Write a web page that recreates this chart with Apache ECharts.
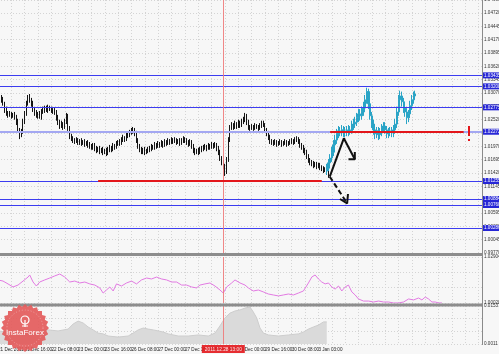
<!DOCTYPE html>
<html><head><meta charset="utf-8">
<script src="https://cdn.jsdelivr.net/npm/echarts@6/dist/echarts.min.js"></script>
<style>html,body{margin:0;padding:0;background:#f7f7f7}#c{width:499px;height:354px}</style>
</head><body><div id="c"></div>
<script>
// ---------- data ----------
const xTickLabels = ["21 Dec 2011","21 Dec 16:00","22 Dec 08:00","23 Dec 00:00","23 Dec 16:00","26 Dec 08:00","27 Dec 00:00","27 Dec 16:00","28 Dec 08:00","29 Dec 00:00","29 Dec 16:00","30 Dec 08:00","3 Jan 03:00"];
const barsPerLabel = 16;
// H1 bars: [open, close, low, high]
const blackCandles = [
[1.0305,1.0303,1.0297,1.0312],[1.0303,1.0299,1.0295,1.0307],[1.0299,1.0293,1.0287,1.0303],[1.0293,1.0285,1.0281,1.0299],
[1.0285,1.0272,1.0266,1.0289],[1.0272,1.0266,1.0260,1.0279],[1.0266,1.0262,1.0256,1.0270],[1.0262,1.0264,1.0258,1.0270],
[1.0264,1.0260,1.0254,1.0268],[1.0260,1.0262,1.0256,1.0266],[1.0262,1.0258,1.0252,1.0268],[1.0258,1.0247,1.0241,1.0262],
[1.0247,1.0231,1.0225,1.0254],[1.0231,1.0221,1.0212,1.0235],[1.0221,1.0227,1.0216,1.0233],[1.0227,1.0247,1.0223,1.0254],
[1.0247,1.0264,1.0243,1.0270],[1.0264,1.0285,1.0260,1.0291],[1.0285,1.0297,1.0281,1.0303],[1.0297,1.0293,1.0287,1.0305],
[1.0293,1.0285,1.0279,1.0297],[1.0285,1.0272,1.0268,1.0291],[1.0272,1.0266,1.0260,1.0276],[1.0266,1.0260,1.0256,1.0272],
[1.0260,1.0264,1.0254,1.0268],[1.0264,1.0258,1.0254,1.0270],[1.0258,1.0268,1.0252,1.0274],[1.0268,1.0272,1.0264,1.0279],
[1.0272,1.0274,1.0266,1.0281],[1.0274,1.0272,1.0268,1.0281],[1.0272,1.0276,1.0266,1.0283],[1.0276,1.0274,1.0270,1.0281],
[1.0274,1.0272,1.0266,1.0279],[1.0272,1.0270,1.0264,1.0276],[1.0270,1.0268,1.0262,1.0276],[1.0268,1.0256,1.0250,1.0272],
[1.0256,1.0247,1.0241,1.0262],[1.0247,1.0239,1.0233,1.0252],[1.0239,1.0243,1.0235,1.0250],[1.0243,1.0237,1.0231,1.0247],
[1.0237,1.0247,1.0233,1.0254],[1.0247,1.0260,1.0243,1.0266],[1.0260,1.0235,1.0229,1.0264],[1.0235,1.0218,1.0212,1.0239],
[1.0218,1.0214,1.0208,1.0223],[1.0214,1.0210,1.0204,1.0218],[1.0210,1.0208,1.0202,1.0214],[1.0208,1.0210,1.0204,1.0216],
[1.0210,1.0206,1.0200,1.0214],[1.0206,1.0208,1.0200,1.0212],[1.0208,1.0204,1.0198,1.0214],[1.0204,1.0206,1.0200,1.0210],
[1.0206,1.0202,1.0196,1.0212],[1.0202,1.0204,1.0198,1.0208],[1.0204,1.0200,1.0194,1.0210],[1.0200,1.0198,1.0192,1.0206],
[1.0198,1.0196,1.0190,1.0202],[1.0196,1.0198,1.0190,1.0204],[1.0198,1.0194,1.0187,1.0204],[1.0194,1.0190,1.0183,1.0198],
[1.0190,1.0192,1.0185,1.0196],[1.0192,1.0187,1.0181,1.0198],[1.0187,1.0190,1.0183,1.0194],[1.0190,1.0185,1.0179,1.0196],
[1.0185,1.0187,1.0181,1.0192],[1.0187,1.0183,1.0177,1.0194],[1.0183,1.0190,1.0179,1.0196],[1.0190,1.0194,1.0185,1.0200],
[1.0194,1.0192,1.0185,1.0198],[1.0192,1.0198,1.0187,1.0204],[1.0198,1.0196,1.0190,1.0202],[1.0196,1.0202,1.0192,1.0208],
[1.0202,1.0206,1.0198,1.0210],[1.0206,1.0204,1.0198,1.0212],[1.0204,1.0210,1.0200,1.0216],[1.0210,1.0214,1.0206,1.0221],
[1.0214,1.0212,1.0206,1.0218],[1.0212,1.0218,1.0208,1.0225],[1.0218,1.0221,1.0214,1.0227],[1.0221,1.0225,1.0216,1.0231],
[1.0225,1.0229,1.0221,1.0235],[1.0229,1.0231,1.0223,1.0237],[1.0231,1.0225,1.0218,1.0235],[1.0225,1.0210,1.0204,1.0229],
[1.0210,1.0198,1.0192,1.0214],[1.0198,1.0192,1.0185,1.0202],[1.0192,1.0187,1.0181,1.0196],[1.0187,1.0190,1.0181,1.0194],
[1.0190,1.0185,1.0179,1.0196],[1.0185,1.0187,1.0181,1.0192],[1.0187,1.0190,1.0183,1.0196],[1.0190,1.0192,1.0185,1.0198],
[1.0192,1.0196,1.0187,1.0202],[1.0196,1.0194,1.0190,1.0200],[1.0194,1.0200,1.0190,1.0206],[1.0200,1.0198,1.0192,1.0204],
[1.0198,1.0202,1.0194,1.0208],[1.0202,1.0200,1.0194,1.0206],[1.0200,1.0204,1.0196,1.0210],[1.0204,1.0200,1.0194,1.0208],
[1.0200,1.0206,1.0196,1.0212],[1.0206,1.0204,1.0198,1.0210],[1.0204,1.0208,1.0200,1.0214],[1.0208,1.0206,1.0200,1.0212],
[1.0206,1.0210,1.0202,1.0216],[1.0210,1.0208,1.0202,1.0214],[1.0208,1.0210,1.0204,1.0216],[1.0210,1.0206,1.0200,1.0214],
[1.0206,1.0208,1.0202,1.0212],[1.0208,1.0204,1.0198,1.0214],[1.0204,1.0208,1.0200,1.0214],[1.0208,1.0212,1.0204,1.0218],
[1.0212,1.0210,1.0204,1.0216],[1.0210,1.0206,1.0200,1.0214],[1.0206,1.0202,1.0196,1.0210],[1.0202,1.0206,1.0198,1.0212],
[1.0206,1.0198,1.0192,1.0210],[1.0198,1.0190,1.0183,1.0202],[1.0190,1.0185,1.0179,1.0194],[1.0185,1.0187,1.0181,1.0192],
[1.0187,1.0185,1.0179,1.0194],[1.0185,1.0190,1.0181,1.0196],[1.0190,1.0192,1.0185,1.0198],[1.0192,1.0194,1.0187,1.0200],
[1.0194,1.0196,1.0190,1.0202],[1.0196,1.0194,1.0187,1.0200],[1.0194,1.0198,1.0190,1.0204],[1.0198,1.0196,1.0190,1.0202],
[1.0196,1.0200,1.0192,1.0206],[1.0200,1.0198,1.0192,1.0204],[1.0198,1.0200,1.0194,1.0206],[1.0200,1.0194,1.0187,1.0204],
[1.0194,1.0185,1.0179,1.0198],[1.0185,1.0173,1.0167,1.0190],[1.0173,1.0165,1.0158,1.0177],[1.0165,1.0156,1.0150,1.0169],
[1.0156,1.0144,1.0136,1.0161],[1.0144,1.0169,1.0140,1.0175],[1.0169,1.0210,1.0165,1.0216],[1.0210,1.0235,1.0206,1.0241],
[1.0235,1.0241,1.0231,1.0247],[1.0241,1.0237,1.0231,1.0245],[1.0237,1.0243,1.0233,1.0250],[1.0243,1.0239,1.0233,1.0247],
[1.0239,1.0245,1.0235,1.0252],[1.0245,1.0241,1.0235,1.0250],[1.0241,1.0247,1.0237,1.0254],[1.0247,1.0252,1.0243,1.0258],
[1.0252,1.0260,1.0247,1.0266],[1.0260,1.0247,1.0241,1.0264],[1.0247,1.0237,1.0231,1.0252],[1.0237,1.0235,1.0229,1.0241],
[1.0235,1.0237,1.0231,1.0243],[1.0237,1.0235,1.0229,1.0241],[1.0235,1.0239,1.0231,1.0245],[1.0239,1.0237,1.0233,1.0243],
[1.0237,1.0235,1.0229,1.0241],[1.0235,1.0239,1.0231,1.0245],[1.0239,1.0243,1.0235,1.0250],[1.0243,1.0241,1.0237,1.0250],
[1.0241,1.0231,1.0225,1.0245],[1.0231,1.0225,1.0218,1.0235],[1.0225,1.0216,1.0210,1.0229],[1.0216,1.0208,1.0202,1.0221],
[1.0208,1.0206,1.0200,1.0212],[1.0206,1.0204,1.0198,1.0210],[1.0204,1.0206,1.0200,1.0212],[1.0206,1.0202,1.0196,1.0210],
[1.0202,1.0204,1.0198,1.0208],[1.0204,1.0206,1.0200,1.0212],[1.0206,1.0202,1.0196,1.0210],[1.0202,1.0204,1.0198,1.0208],
[1.0204,1.0206,1.0200,1.0212],[1.0206,1.0202,1.0196,1.0210],[1.0202,1.0204,1.0198,1.0208],[1.0204,1.0206,1.0200,1.0212],
[1.0206,1.0208,1.0202,1.0214],[1.0208,1.0206,1.0200,1.0212],[1.0206,1.0210,1.0202,1.0216],[1.0210,1.0212,1.0206,1.0218],
[1.0212,1.0208,1.0202,1.0216],[1.0208,1.0200,1.0194,1.0212],[1.0200,1.0196,1.0190,1.0204],[1.0196,1.0190,1.0183,1.0200],
[1.0190,1.0185,1.0179,1.0194],[1.0185,1.0177,1.0171,1.0190],[1.0177,1.0169,1.0163,1.0181],[1.0169,1.0165,1.0158,1.0173],
[1.0165,1.0163,1.0156,1.0169],[1.0163,1.0158,1.0152,1.0167],[1.0158,1.0161,1.0154,1.0165],[1.0161,1.0156,1.0150,1.0165],
[1.0156,1.0158,1.0152,1.0163],[1.0158,1.0154,1.0148,1.0163],[1.0154,1.0152,1.0146,1.0158],[1.0152,1.0148,1.0142,1.0156],
[1.0148,1.0150,1.0144,1.0154],[1.0150,1.0144,1.0138,1.0154],[1.0144,1.0138,1.0132,1.0148]
];
// projected path (cyan), starts at bar index cyanStart
const cyanStart = 197;
const cyanCandles = [
[1.0146,1.0152,1.0138,1.0161],[1.0152,1.0163,1.0146,1.0171],[1.0163,1.0173,1.0154,1.0181],[1.0173,1.0185,1.0165,1.0196],
[1.0185,1.0200,1.0177,1.0210],[1.0200,1.0210,1.0192,1.0221],[1.0210,1.0223,1.0202,1.0233],[1.0223,1.0229,1.0214,1.0239],
[1.0229,1.0227,1.0218,1.0237],[1.0227,1.0231,1.0218,1.0241],[1.0231,1.0225,1.0216,1.0239],[1.0225,1.0229,1.0216,1.0237],
[1.0229,1.0227,1.0218,1.0239],[1.0227,1.0231,1.0218,1.0241],[1.0231,1.0229,1.0221,1.0239],[1.0229,1.0239,1.0223,1.0250],
[1.0239,1.0243,1.0231,1.0254],[1.0243,1.0247,1.0235,1.0258],[1.0247,1.0256,1.0239,1.0266],[1.0256,1.0264,1.0247,1.0274],
[1.0264,1.0260,1.0250,1.0274],[1.0260,1.0268,1.0252,1.0279],[1.0268,1.0276,1.0260,1.0289],[1.0276,1.0293,1.0268,1.0303],
[1.0293,1.0310,1.0285,1.0318],[1.0310,1.0285,1.0274,1.0316],[1.0285,1.0260,1.0252,1.0291],[1.0260,1.0243,1.0235,1.0268],
[1.0243,1.0231,1.0221,1.0252],[1.0231,1.0223,1.0212,1.0239],[1.0223,1.0229,1.0214,1.0237],[1.0229,1.0221,1.0210,1.0237],
[1.0221,1.0227,1.0212,1.0235],[1.0227,1.0235,1.0218,1.0243],[1.0235,1.0239,1.0227,1.0247],[1.0239,1.0231,1.0223,1.0247],
[1.0231,1.0223,1.0214,1.0239],[1.0223,1.0227,1.0214,1.0235],[1.0227,1.0229,1.0218,1.0237],[1.0229,1.0225,1.0216,1.0237],
[1.0225,1.0231,1.0216,1.0241],[1.0231,1.0243,1.0223,1.0254],[1.0243,1.0268,1.0235,1.0279],[1.0268,1.0293,1.0260,1.0303],
[1.0293,1.0301,1.0285,1.0312],[1.0301,1.0289,1.0279,1.0310],[1.0289,1.0276,1.0266,1.0297],[1.0276,1.0268,1.0258,1.0285],
[1.0268,1.0256,1.0243,1.0276],[1.0256,1.0264,1.0247,1.0272],[1.0264,1.0281,1.0256,1.0291],[1.0281,1.0293,1.0272,1.0303],
[1.0293,1.0301,1.0285,1.0310],[1.0301,1.0305,1.0295,1.0312]
];
const blueLevels = [1.03435,1.03208,1.02775,1.01255,1.00884,1.00760,1.00286];
const pivotLevel = 1.02272;
const currentPrice = 1.01529;
const redSegments = [[199,279,1.02272],[60,194,1.01255]]; // [fromBar, toBar, price]
const redMark = [282,1.02389,1.02080];
const solidArrow = [[198.8,1.01344],[207.2,1.02136],[213.8,1.01703]];
const solidArrowHead = [[210.0,1.01703],[213.8,1.01703],[213.8,1.01853]];
const dashedArrow = [[198.8,1.01344],[209.2,1.00795]];
const dashedArrowHead = [[204.9,1.00884],[209.2,1.00795],[209.7,1.00987]];
const cursorBar = 135, cursorLabel = '2011.12.28 13:00';
const oscIdx = [0,3,6,9,12,15,18,19,21,23,25,28,31,34,37,40,43,46,49,52,55,58,61,63,65,67,69,71,74,77,80,83,86,89,92,95,98,101,104,107,110,113,116,119,121,124,127,130,133,135,137,140,142,145,148,150,153,156,159,162,165,168,171,174,177,180,183,186,188,190,192,194,196,198,200,202,204,206,208,210,212,214,216,219,222,225,228,231,234,237,240,243,246,249,252,254,256,258,260,262,264,266];
const oscVal = [1.0147,1.0140,1.0122,1.0103,1.0115,1.0140,1.0165,1.0178,1.0134,1.0109,1.0134,1.0147,1.0159,1.0172,1.0184,1.0165,1.0134,1.0140,1.0128,1.0134,1.0122,1.0115,1.0097,1.0065,1.0084,1.0103,1.0078,1.0122,1.0109,1.0128,1.0140,1.0122,1.0147,1.0159,1.0153,1.0165,1.0153,1.0147,1.0134,1.0134,1.0115,1.0115,1.0103,1.0097,1.0115,1.0122,1.0128,1.0109,1.0084,1.0065,1.0103,1.0128,1.0147,1.0128,1.0115,1.0097,1.0078,1.0084,1.0072,1.0059,1.0053,1.0047,1.0053,1.0059,1.0053,1.0065,1.0078,1.0128,1.0165,1.0178,1.0153,1.0134,1.0122,1.0128,1.0103,1.0090,1.0109,1.0078,1.0103,1.0115,1.0072,1.0053,1.0028,1.0015,1.0015,1.0009,1.0015,1.0009,1.0009,1.0003,1.0003,1.0009,1.0028,1.0022,1.0034,1.0022,1.0040,1.0028,1.0009,1.0009,1.0003,1.0003];
const oscMin = 1.00028, oscMax = 1.02904;
const histIdx = [0,6,12,18,24,30,36,42,45,48,51,54,57,60,63,66,72,78,81,84,87,90,93,96,99,102,108,114,120,126,130,133,136,139,142,145,148,151,153,155,157,159,162,168,174,180,183,186,189,192,195,197];
const histVal = [0.0060,0.0056,0.0060,0.0056,0.0060,0.0064,0.0060,0.0067,0.0086,0.0097,0.0090,0.0075,0.0064,0.0052,0.0049,0.0041,0.0037,0.0041,0.0052,0.0064,0.0071,0.0067,0.0064,0.0060,0.0056,0.0049,0.0041,0.0041,0.0045,0.0041,0.0052,0.0079,0.0109,0.0127,0.0135,0.0139,0.0146,0.0150,0.0131,0.0109,0.0071,0.0052,0.0045,0.0041,0.0045,0.0049,0.0056,0.0067,0.0075,0.0082,0.0094,0.0094];
const histMin = 0.0011, histMax = 0.01537;
const priceMin = 0.99770, priceMax = 1.04990, priceStep = 0.00275;

// ---------- chart ----------
const FONT = 'Liberation Sans';
const dotted = {color:'#d4d4d4', type:[1,2], width:1};
const tinyLabel = {fontSize:4.6, fontFamily:FONT, color:'#333', margin:2};
function xAxisCfg(i, showLabels){
  return {type:'value', gridIndex:i, min:0, max:290, interval:barsPerLabel,
    axisLine:{show:false}, axisTick:{show:false},
    axisLabel: showLabels ? {show:true, align:'left', fontSize:4.6, fontFamily:FONT, color:'#222', margin:3,
      formatter: v => (v % barsPerLabel === 0 && xTickLabels[v/barsPerLabel]) ? xTickLabels[v/barsPerLabel] : ''} : {show:false},
    splitLine:{show:true, lineStyle:dotted},
    minorTick:{show:false, splitNumber:2}, minorSplitLine:{show:true, lineStyle:dotted}};
}
function yAxisCfg(i, min, max, interval, fmt, minor){
  return {type:'value', gridIndex:i, position:'right', min, max, interval,
    axisLine:{show:false}, axisTick:{show:true, length:2, lineStyle:{color:'#777'}},
    axisLabel:Object.assign({formatter:fmt}, tinyLabel),
    splitLine:{show:true, lineStyle:dotted},
    minorTick:{show:false, splitNumber:minor||1}, minorSplitLine:{show:!!minor, lineStyle:dotted}};
}
const f5 = v => v.toFixed(5);
const hl = (bg) => ({show:true, position:'end', distance:1, formatter: p => Number(p.value).toFixed(5),
  backgroundColor:bg, color:'#fff', fontSize:4.6, fontFamily:FONT, padding:[1,1,0,1]});
const cursorLine = () => ({xAxis:cursorBar, lineStyle:{color:'#ee7a7a', width:1, type:'solid', opacity:0.9}, label:{show:false}});

const mainMarks = [];
blueLevels.forEach(v => mainMarks.push({yAxis:v, lineStyle:{color:'#3c3cf0', width:1, type:'solid'}, label:hl('#2626d6')}));
mainMarks.push({yAxis:pivotLevel, lineStyle:{color:'#a4a8f2', width:2, type:'solid'}, label:hl('#2626d6')});
mainMarks.push({yAxis:currentPrice, lineStyle:{opacity:0}, label:hl('#111')});
mainMarks.push(cursorLine());
redSegments.forEach(s => mainMarks.push([{coord:[s[0],s[2]], lineStyle:{color:'#e3161b', width:2, type:'solid'}, label:{show:false}},{coord:[s[1],s[2]]}]));
mainMarks.push([{coord:[redMark[0],redMark[1]], lineStyle:{color:'#e3161b', width:2, type:[10,3]}, label:{show:false}},{coord:[redMark[0],redMark[2]]}]);

const candleStyle = c => ({color:c, color0:c, borderColor:c, borderColor0:c, borderWidth:1});
const option = {
  backgroundColor:'#f7f7f7', animation:false,
  grid:[
    {left:-2, right:17, top:0, height:253, containLabel:false, outerBoundsMode:'none'},
    {left:-2, right:17, top:257, height:46, containLabel:false, outerBoundsMode:'none'},
    {left:-2, right:17, top:306, height:38, containLabel:false, outerBoundsMode:'none'}
  ],
  xAxis:[xAxisCfg(0,false), xAxisCfg(1,false), xAxisCfg(2,true)],
  yAxis:[
    yAxisCfg(0, priceMin, priceMax, priceStep, f5),
    yAxisCfg(1, oscMin, oscMax, +(oscMax-oscMin).toFixed(5), f5, 3),
    yAxisCfg(2, histMin, histMax, +(histMax-histMin).toFixed(5), v => v.toFixed(5).replace(/0+$/,''), 3)
  ],
  series:[
    {type:'candlestick', xAxisIndex:0, yAxisIndex:0, barWidth:1.2,
      encode:{x:0, y:[1,2,3,4]},
      data: blackCandles.map((r,i)=>[i].concat(r)),
      itemStyle:candleStyle('#151515')},
    {type:'candlestick', xAxisIndex:0, yAxisIndex:0, barWidth:1.6,
      encode:{x:0, y:[1,2,3,4]},
      data: cyanCandles.map((r,k)=>[cyanStart+k].concat(r)),
      itemStyle:candleStyle('#2aa4c6')},
    {type:'line', xAxisIndex:0, yAxisIndex:0, data:solidArrow, symbol:'none', lineStyle:{color:'#111', width:2}, itemStyle:{color:'#3c3cf0'}, z:5,
      markLine:{silent:true, precision:5, symbol:['none','none'], animation:false, data:mainMarks, z:4}},
    {type:'line', xAxisIndex:0, yAxisIndex:0, data:solidArrowHead, symbol:'none', lineStyle:{color:'#111', width:2}, z:5},
    {type:'line', xAxisIndex:0, yAxisIndex:0, data:dashedArrow, symbol:'none', lineStyle:{color:'#111', width:2, type:[5,3]}, z:5},
    {type:'line', xAxisIndex:0, yAxisIndex:0, data:dashedArrowHead, symbol:'none', lineStyle:{color:'#111', width:2}, z:5},
    {type:'line', xAxisIndex:1, yAxisIndex:1, data:oscIdx.map((x,k)=>[x,oscVal[k]]), symbol:'none',
      lineStyle:{color:'#e27ae2', width:1},
      markLine:{silent:true, precision:5, symbol:['none','none'], animation:false, data:[cursorLine()]}},
    {type:'line', xAxisIndex:2, yAxisIndex:2, data:histIdx.map((x,k)=>[x,histVal[k]]), symbol:'none',
      lineStyle:{color:'#cdcdcd', width:1}, areaStyle:{color:'#dadada', origin:'start', opacity:1},
      markLine:{silent:true, precision:5, symbol:['none','none'], animation:false, data:[
        Object.assign(cursorLine(), {label:{show:true, position:'start', distance:1, formatter:cursorLabel,
          backgroundColor:'#e3161b', color:'#fff', fontSize:4.8, fontFamily:FONT, padding:[2,3,1,3]}})]}}
  ],
  graphic:[]
};

// separators, right axis line, logo (decoration)
const gear = [];
for (let k=0;k<48;k++){ const a=k*Math.PI/24, r=(k%2===0)?24:21.5; gear.push([r*Math.cos(a), r*Math.sin(a)]); }
const Z = 100;
option.graphic = [
  {type:'line', shape:{x1:0,y1:254.5,x2:482,y2:254.5}, style:{stroke:'#8d8d8d', lineWidth:3}, z:50},
  {type:'line', shape:{x1:0,y1:305,x2:482,y2:305}, style:{stroke:'#8d8d8d', lineWidth:3}, z:50},
  {type:'line', shape:{x1:482.5,y1:0,x2:482.5,y2:345}, style:{stroke:'#8a8a8a', lineWidth:1}, z:50},
  {type:'polygon', x:25, y:328, shape:{points:gear}, style:{fill:'#e35b5b', opacity:0.92}, z:Z},
  {type:'circle', x:25, y:328, shape:{cx:0,cy:0,r:18}, style:{fill:'none', stroke:'rgba(255,255,255,0.35)', lineWidth:1, lineDash:[1,2]}, z:Z+1},
  {type:'circle', x:25, y:328, shape:{cx:0,cy:-8,r:4}, style:{fill:'none', stroke:'#fff', lineWidth:1.2}, z:Z+1},
  {type:'line', x:25, y:328, shape:{x1:0,y1:-8,x2:0,y2:-1}, style:{stroke:'#fff', lineWidth:1.2}, z:Z+1},
  {type:'line', x:25, y:328, shape:{x1:-3,y1:-2,x2:3,y2:-2}, style:{stroke:'#fff', lineWidth:1}, z:Z+1},
  {type:'text', x:25, y:333, style:{text:'InstaForex', fill:'#fff', font:'8px "Liberation Sans"', align:'center', verticalAlign:'middle'}, z:Z+2}
];

const chart = echarts.init(document.getElementById('c'), null, {renderer:'canvas'});
chart.setOption(option);
</script>
</body></html>
